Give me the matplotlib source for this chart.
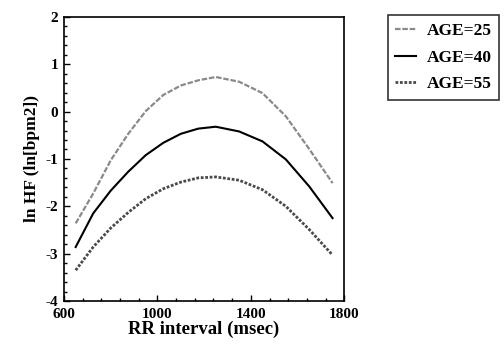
import matplotlib
matplotlib.use("Agg")
import matplotlib.pyplot as plt
import numpy as np
from matplotlib.ticker import MultipleLocator

plt.rcParams["font.family"] = ["Liberation Serif", "DejaVu Serif"]
plt.rcParams["font.weight"] = "bold"
plt.rcParams["axes.unicode_minus"] = False

# значения
rr = [650, 725, 800, 875, 950, 1025, 1100, 1175, 1250, 1350, 1450, 1550, 1650, 1750]
hf_age25 = [-2.36, -1.73, -1.03, -0.47, 0.01, 0.35, 0.55, 0.66, 0.73, 0.63, 0.39, -0.10, -0.79, -1.51]
hf_age40 = [-2.86, -2.15, -1.67, -1.27, -0.92, -0.66, -0.47, -0.36, -0.32, -0.42, -0.63, -1.01, -1.58, -2.25]
hf_age55 = [-3.35, -2.86, -2.46, -2.13, -1.84, -1.63, -1.49, -1.40, -1.38, -1.45, -1.65, -2.00, -2.49, -3.03]
labels = ["AGE=25", "AGE=40", "AGE=55"]
x_ticks = [600, 1000, 1400, 1800]

fig = plt.figure(figsize=(5.04, 3.44), dpi=100)
ax = fig.add_axes([0.127, 0.125, 0.556, 0.826])

l1, = ax.plot(rr, hf_age25, color="#8a8a8a", lw=1.6, ls=(0, (2.5, 0.8)))
l2, = ax.plot(rr, hf_age40, color="black", lw=1.5, ls="-")
l3, = ax.plot(rr, hf_age55, color="#4a4a4a", lw=2.0, ls=(0, (1, 0.6)))

ax.set_xlim(600, 1800)
ax.set_ylim(-4, 2)
ax.set_xticks(x_ticks)
ax.set_xticks(np.arange(600, 1801, 80), minor=True)
ax.yaxis.set_major_locator(MultipleLocator(1))
ax.yaxis.set_minor_locator(MultipleLocator(0.2))
ax.tick_params(which="both", direction="in", top=False, right=False,
               labelsize=11, width=1.0)
ax.tick_params(which="major", length=4)
ax.tick_params(axis="x", which="major", pad=5)
ax.tick_params(axis="y", which="major", pad=4)
ax.tick_params(which="minor", length=2.5)
for lab in ax.get_xticklabels() + ax.get_yticklabels():
    lab.set_fontweight("bold")
for s in ax.spines.values():
    s.set_linewidth(1.2)

ax.set_xlabel("RR interval (msec)", fontsize=13.5, fontweight="bold", labelpad=0)
ax.set_ylabel("ln HF (ln[bpm2])", fontsize=12.5, fontweight="bold", labelpad=4)

leg = fig.legend([l1, l2, l3], labels, loc="upper left",
                 bbox_to_anchor=(0.762, 0.966), frameon=True, fancybox=False,
                 prop={"weight": "bold", "size": 12.5}, handlelength=1.2,
                 handletextpad=0.6, borderpad=0.45, labelspacing=0.6,
                 borderaxespad=0.2)
leg.get_frame().set_edgecolor("black")
leg.get_frame().set_linewidth(1.2)

fig.savefig("out.png", dpi=100)
